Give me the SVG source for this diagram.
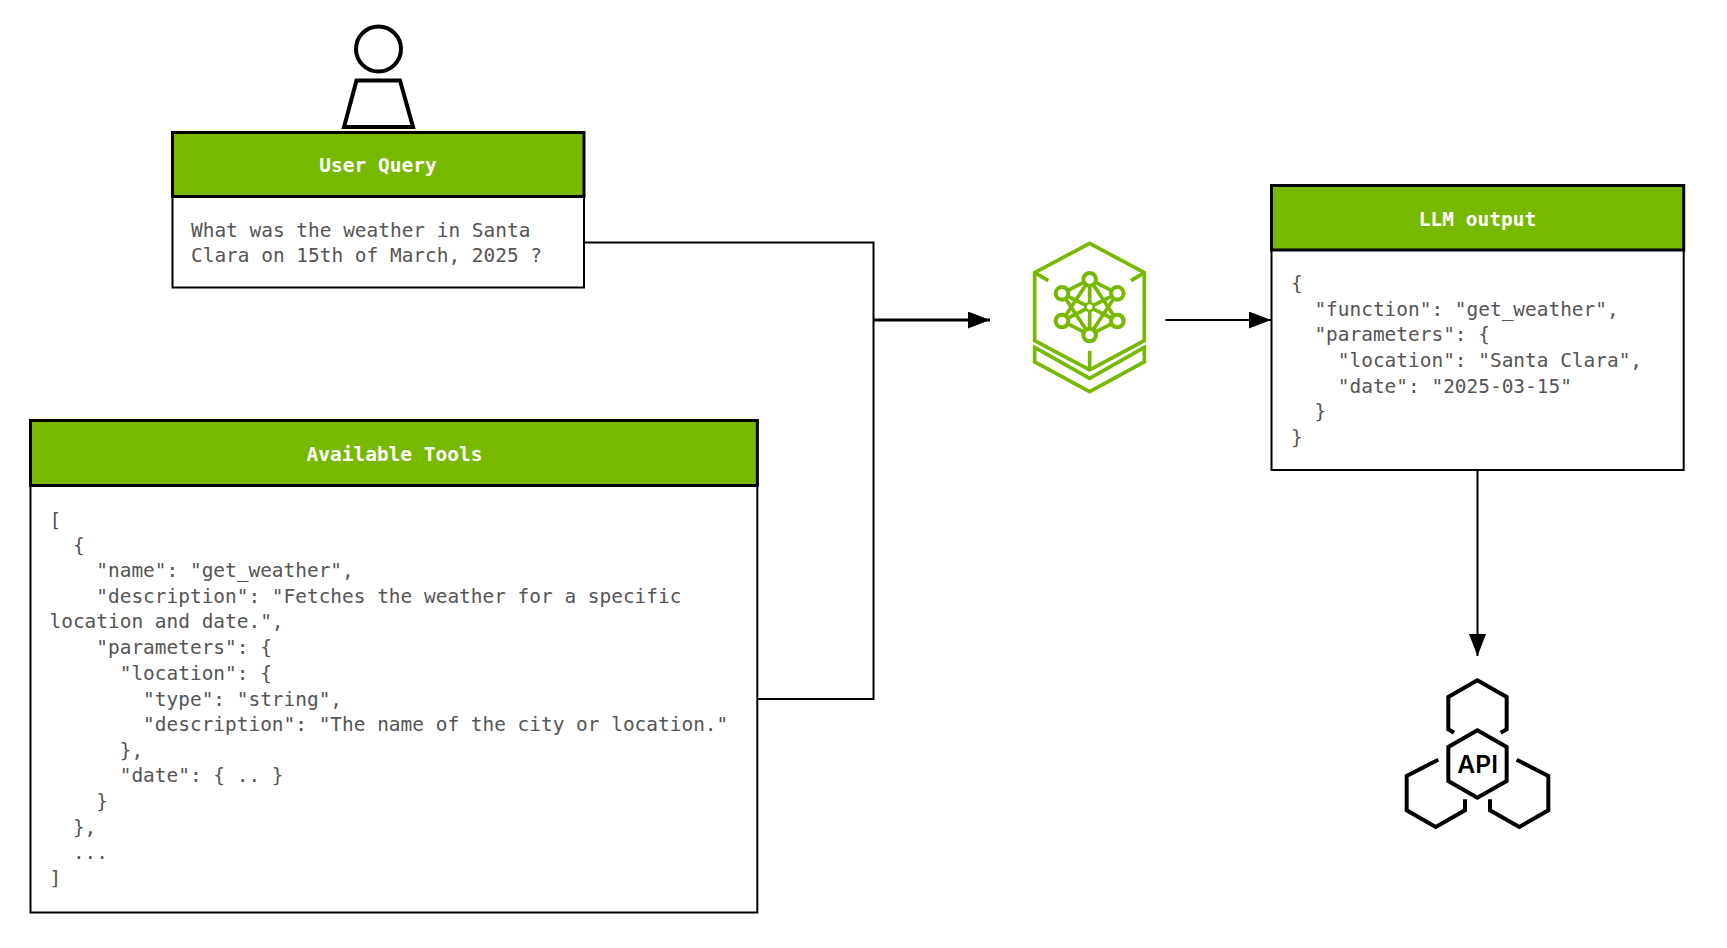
<svg xmlns="http://www.w3.org/2000/svg" width="1727" height="948" viewBox="0 0 1727 948">
<style>
.box{fill:#fff;stroke:#000;stroke-width:2}
.head{fill:#76b900;stroke:#000;stroke-width:3}
.title{font:bold 19.5px "DejaVu Sans Mono",monospace;fill:#fff;text-anchor:middle}
.code{font:19.45px "DejaVu Sans Mono",monospace;fill:#555;white-space:pre}
.conn{fill:none;stroke:#000;stroke-width:2}
.g{fill:none;stroke:#76b900;stroke-width:11}
.k{fill:none;stroke:#000;stroke-width:12}
</style>
<defs><marker id="a" markerUnits="userSpaceOnUse" markerWidth="23" markerHeight="18" refX="22" refY="8.500" orient="auto"><path d="M0,0L22,8.500L0,17Z" fill="#000"/></marker></defs>
<rect width="1727" height="948" fill="#fff"/>
<g id="connectors">
<path class="conn" d="M584,242.500H873.500V699H757"/>
<path class="conn" d="M873.500,320H990" style="stroke-width:3" marker-end="url(#a)"/>
<path class="conn" d="M1165.500,320H1271" marker-end="url(#a)"/>
<path class="conn" d="M1477.500,470V656" marker-end="url(#a)"/>
</g>
<g id="user-icon" fill="#fff" stroke="#000" stroke-width="4">
<circle cx="378.500" cy="49" r="22.500"/>
<path d="M356.500,80.500H400L413,127H344Z"/>
</g>
<g id="user-query">
<rect class="box" x="172.500" y="132.500" width="411.500" height="155"/>
<rect class="head" x="172.500" y="132.500" width="411.500" height="64"/>
<text class="title" x="378" y="172">User Query</text>
<text class="code" x="191" y="237">What was the weather in Santa</text>
<text class="code" x="191" y="262">Clara on 15th of March, 2025 ?</text>
</g>
<g id="available-tools">
<rect class="box" x="30.500" y="420.500" width="726.800" height="492"/>
<rect class="head" x="30.500" y="420.500" width="726.800" height="65"/>
<text class="title" x="394.500" y="461">Available Tools</text>
<text class="code" x="49.500" y="526.500">[</text>
<text class="code" x="49.500" y="552">  {</text>
<text class="code" x="49.500" y="577">    "name": "get_weather",</text>
<text class="code" x="49.500" y="603">    "description": "Fetches the weather for a specific</text>
<text class="code" x="49.500" y="628">location and date.",</text>
<text class="code" x="49.500" y="654">    "parameters": {</text>
<text class="code" x="49.500" y="680">      "location": {</text>
<text class="code" x="49.500" y="705.500">        "type": "string",</text>
<text class="code" x="49.500" y="731">        "description": "The name of the city or location."</text>
<text class="code" x="49.500" y="757">      },</text>
<text class="code" x="49.500" y="782">      "date": { .. }</text>
<text class="code" x="49.500" y="808">    }</text>
<text class="code" x="49.500" y="834">  },</text>
<text class="code" x="49.500" y="859">  ...</text>
<text class="code" x="49.500" y="885">]</text>
</g>
<g id="llm-icon" transform="translate(960,210) scale(.3333)">
<path class="g" d="M224,188L389,100L553,188V392L389,480L224,392Z"/>
<path class="g" d="M224,188L265,212M553,188L513,212M389,422V480"/>
<path class="g" d="M224,412L389,505L553,412V456L389,545L224,456Z"/>
<path class="g" d="M389,208L306,250M389,208L472,250M389,375L306,333M389,375L472,333M389,208L306,333M389,208L472,333M389,375L306,250M389,375L472,250M306,250L472,333M472,250L306,333M389,208V375"/>
<g fill="#fff" stroke="#76b900" stroke-width="12">
<circle cx="389" cy="208" r="19"/><circle cx="389" cy="291" r="12" stroke-width="8"/><circle cx="389" cy="375" r="19"/>
<circle cx="306" cy="250" r="19"/><circle cx="472" cy="250" r="19"/><circle cx="306" cy="333" r="19"/><circle cx="472" cy="333" r="19"/>
</g>
</g>
<g id="llm-output">
<rect class="box" x="1271.500" y="185.500" width="412.200" height="284.500"/>
<rect class="head" x="1271.500" y="185.500" width="412.200" height="64.500"/>
<text class="title" x="1477.500" y="225.500">LLM output</text>
<text class="code" x="1291" y="290">{</text>
<text class="code" x="1291" y="315.500">  "function": "get_weather",</text>
<text class="code" x="1291" y="341">  "parameters": {</text>
<text class="code" x="1291" y="367">    "location": "Santa Clara",</text>
<text class="code" x="1291" y="392.500">    "date": "2025-03-15"</text>
<text class="code" x="1291" y="418">  }</text>
<text class="code" x="1291" y="444">}</text>
</g>
<g id="api-icon" transform="translate(1380,641) scale(.3333)">
<path class="k" d="M222,275L205,265V168L292,118L380,168V265L362,275"/>
<path class="k" d="M292,268L380,318V420L292,470L205,420V318Z"/>
<path class="k" d="M175,356L80,405V508L167,558L255,508V475"/>
<path class="k" d="M410,356L505,405V508L418,558L330,508V475"/>
<text x="293" y="396" text-anchor="middle" font-family="Inter,'Liberation Sans',sans-serif" font-weight="600" font-size="74" fill="#000">API</text>
</g>
</svg>
